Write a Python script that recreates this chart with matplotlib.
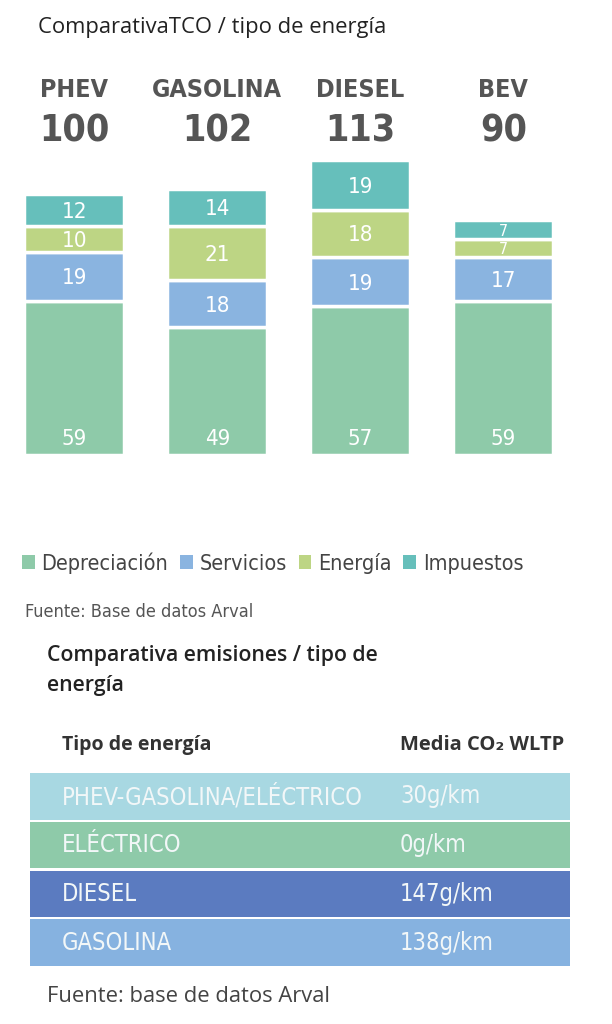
import matplotlib
matplotlib.use("Agg")
import matplotlib.pyplot as plt
from matplotlib import font_manager as fm
from matplotlib.patches import Patch
from matplotlib.transforms import blended_transform_factory

# TCO data (index 100 = PHEV)
tipos = ["PHEV", "GASOLINA", "DIESEL", "BEV"]
totales = [100, 102, 113, 90]
depreciacion = [59, 49, 57, 59]
servicios = [19, 18, 19, 17]
energia = [10, 21, 18, 7]
impuestos = [12, 14, 19, 7]
componentes = ["Depreciación", "Servicios", "Energía", "Impuestos"]

# emissions table
tipos_emision = ["PHEV-GASOLINA/ELÉCTRICO", "ELÉCTRICO", "DIESEL", "GASOLINA"]
emisiones = ["30g/km", "0g/km", "147g/km", "138g/km"]

col_comp = ["#8ecaa9", "#8ab4e0", "#bdd584", "#66bfbb"]
col_filas = ["#a8d8e2", "#8ecaa9", "#5b7bc0", "#86b2e0"]

SANS = ["Open Sans", "DejaVu Sans"]
W, H = 612, 1024

# condensed face if there is one, else shrink a bit
_cond = fm.FontProperties(family="DejaVu Sans", stretch="condensed")
if "condensed" in fm.findfont(_cond).lower():
    k = 1.0
else:
    k = 0.88


def narrow(size, weight="normal"):
    return fm.FontProperties(family="DejaVu Sans", stretch="condensed",
                             size=size * k, weight=weight)


def fy(px):
    return 1 - px / H


fig = plt.figure(figsize=(W / 100, H / 100), dpi=100)
fig.patch.set_facecolor("white")

fig.text(38 / W, fy(27), "ComparativaTCO / tipo de energía", family=SANS,
         fontsize=15.8, color="#222222", va="center", ha="left")

# stacked bars
ax = fig.add_axes([0, fy(455), 1, (455 - 150) / H])
ax.set_xlim(-0.52, 3.76)
ax.set_ylim(0, 117)
ax.axis("off")

x = list(range(len(tipos)))
bottom = [0] * len(tipos)
for serie, color in zip([depreciacion, servicios, energia, impuestos], col_comp):
    ax.bar(x, serie, bottom=bottom, width=0.7, color=color,
           edgecolor="white", linewidth=2.5)
    for i, v in enumerate(serie):
        if serie is depreciacion:
            ypos = bottom[i] + 7
        else:
            ypos = bottom[i] + v / 2
        # thin segments get a smaller number so it stays inside
        size = 16 if v >= 10 else 11.5
        ax.text(i, ypos, str(v), ha="center", va="center_baseline",
                color="white", fontproperties=narrow(size), zorder=5)
    bottom = [b + v for b, v in zip(bottom, serie)]

trans = blended_transform_factory(ax.transData, fig.transFigure)
for i, (t, tot) in enumerate(zip(tipos, totales)):
    ax.text(i, fy(90), t, transform=trans, ha="center", va="center",
            fontproperties=narrow(18, "bold"), color="#555555")
    ax.text(i, fy(132), str(tot), transform=trans, ha="center", va="center",
            fontproperties=narrow(27, "bold"), color="#555555")

handles = [Patch(facecolor=c, edgecolor="none") for c in col_comp]
fig.legend(handles, componentes, loc="center left",
           bbox_to_anchor=(22 / W, fy(563)), ncol=4, frameon=False,
           handlelength=0.6, handleheight=0.6, handletextpad=0.3,
           columnspacing=0.55, borderaxespad=0, borderpad=0,
           prop=narrow(15.5), labelcolor="#444444")

fig.text(25 / W, fy(612), "Fuente: Base de datos Arval",
         fontproperties=narrow(13), color="#555555", va="center", ha="left")

fig.text(47 / W, fy(655), "Comparativa emisiones / tipo de", family=SANS,
         fontsize=15.3, fontweight="semibold", color="#222222", va="center")
fig.text(47 / W, fy(686), "energía", family=SANS,
         fontsize=15.3, fontweight="semibold", color="#222222", va="center")

fig.text(62 / W, fy(745), "Tipo de energía", family=SANS, fontsize=14,
         fontweight="bold", color="#333333", va="center")
fig.text(400 / W, fy(745), "Media CO₂ WLTP", family=SANS, fontsize=14.5,
         fontweight="bold", color="#333333", va="center")

# emissions table
tx = fig.add_axes([30 / W, fy(967), 540 / W, (967 - 772) / H])
tx.set_xlim(0, 1)
tx.set_ylim(3.5, -0.5)
tx.axis("off")
filas = list(range(len(tipos_emision)))
tx.barh(filas, [1] * len(filas), height=0.95, left=0, color=col_filas)
for i, (nombre, val) in enumerate(zip(tipos_emision, emisiones)):
    tx.text(32 / 540, i, nombre, ha="left", va="center", color="#f2f7f8",
            fontproperties=narrow(17))
    tx.text(370 / 540, i, val, ha="left", va="center", color="#f2f7f8",
            fontproperties=narrow(17))

fig.text(47 / W, fy(996), "Fuente: base de datos Arval", family=SANS,
         fontsize=15.8, color="#444444", va="center", ha="left")

fig.savefig("out.png", dpi=100)
